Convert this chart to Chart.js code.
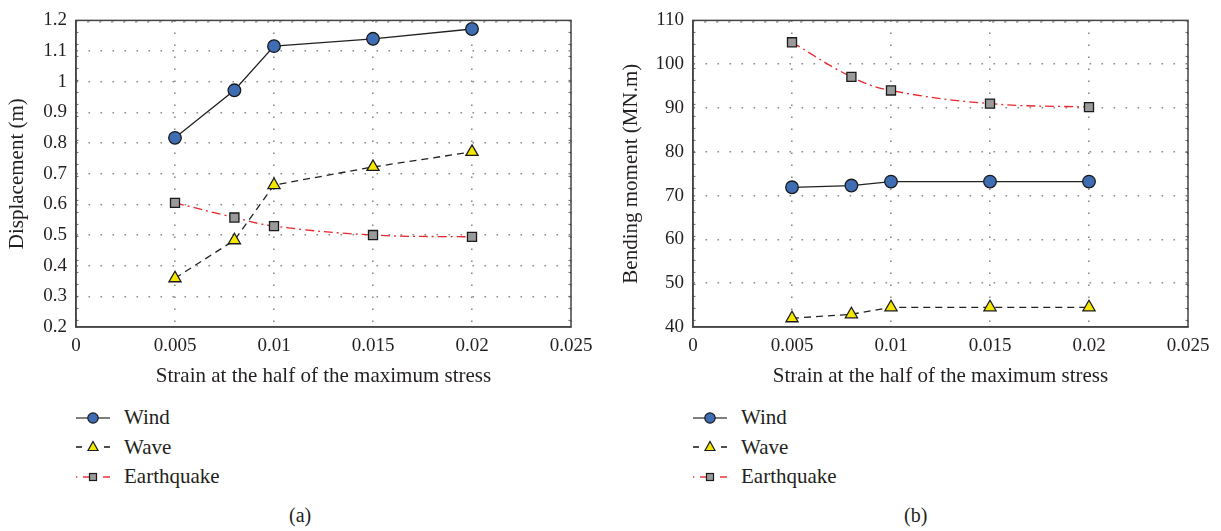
<!DOCTYPE html>
<html>
<head>
<meta charset="utf-8">
<script src="https://cdn.jsdelivr.net/npm/chart.js@4.4.0/dist/chart.umd.min.js"></script>
<style>
  body { margin: 0; width: 1221px; height: 531px; background: #fff; position: relative; overflow: hidden;
         font-family: "Liberation Serif", serif; color: #231f20; }
  .panel { position: absolute; top: 0; width: 604px; height: 390px; }
  .legend { position: absolute; top: 403px; }
  .legend .row { height: 29.5px; display: flex; align-items: center; font-size: 21px; }
  .legend svg { margin-right: 14px; }
  .caption { position: absolute; top: 504px; font-size: 20px; }
</style>
</head>
<body>
<div class="panel" style="left:0"><canvas id="chartA" width="604" height="390"></canvas></div>
<div class="panel" style="left:617px"><canvas id="chartB" width="604" height="390"></canvas></div>

<div class="legend" style="left:76px" id="legendA"></div>
<div class="legend" style="left:693px" id="legendB"></div>
<div class="caption" style="left:289px">(a)</div>
<div class="caption" style="left:904px">(b)</div>

<script>
// strain at half of max stress (shared x values)
const strain = [0.005, 0.008, 0.01, 0.015, 0.02];
const xTicks = [0, 0.005, 0.01, 0.015, 0.02, 0.025];
const xTickLabels = ['0', '0.005', '0.01', '0.015', '0.02', '0.025'];

// (a) displacement (m)
const dispWind = [0.817, 0.972, 1.116, 1.140, 1.172];
const dispWave = [0.359, 0.483, 0.663, 0.722, 0.771];
const dispQuake = [0.605, 0.557, 0.529, 0.500, 0.494];
const dispTicks = [0.2, 0.3, 0.4, 0.5, 0.6, 0.7, 0.8, 0.9, 1.0, 1.1, 1.2];
const dispTickLabels = ['0.2', '0.3', '0.4', '0.5', '0.6', '0.7', '0.8', '0.9', '1', '1.1', '1.2'];

// (b) bending moment (MN.m)
const momWind = [71.9, 72.3, 73.2, 73.2, 73.2];
const momWave = [42.0, 42.9, 44.5, 44.5, 44.5];
const momQuake = [105.0, 97.1, 94.0, 91.0, 90.2];
const momTicks = [40, 50, 60, 70, 80, 90, 100, 110];
const momTickLabels = ['40', '50', '60', '70', '80', '90', '100', '110'];

const seriesNames = ['Wind', 'Wave', 'Earthquake'];

Chart.defaults.font.family = '"Liberation Serif", serif';
Chart.defaults.color = '#231f20';

function pts(ys) {
  return strain.map(function(x, i) { return {x: x, y: ys[i]}; });
}

// box around the plot area, with small inner marks on top/left/right
var frame = {
  id: 'frame',
  afterDatasetsDraw: function(chart) {
    var a = chart.chartArea, ctx = chart.ctx;
    ctx.save();
    ctx.strokeStyle = '#666';
    ctx.lineWidth = 1;
    ctx.beginPath();
    for (var x = a.left + 12; x < a.right - 4; x += 12) {
      ctx.moveTo(x, a.top); ctx.lineTo(x, a.top + 2.5);
    }
    for (var y = a.top + 12; y < a.bottom - 4; y += 12) {
      ctx.moveTo(a.left, y); ctx.lineTo(a.left + 2.5, y);
      ctx.moveTo(a.right, y); ctx.lineTo(a.right - 2.5, y);
    }
    ctx.stroke();
    ctx.strokeStyle = '#444';
    ctx.lineWidth = 1.5;
    ctx.strokeRect(a.left, a.top, a.right - a.left, a.bottom - a.top);
    ctx.restore();
  }
};

function drawChart(id, wind, wave, quake, yTicks, yLabels, yTitle, titlePad) {
  var grid = { color: '#8a8a8a', lineWidth: 1.6, drawTicks: false };
  var border = { color: '#444', width: 1.5, dash: [1.6, 10.4] };
  return new Chart(document.getElementById(id), {
    type: 'line',
    data: {
      datasets: [{
        label: seriesNames[0],
        data: pts(wind),
        borderColor: '#222', borderWidth: 1.3,
        pointStyle: 'circle', pointRadius: 6.3,
        pointBackgroundColor: '#3f6db3', pointBorderColor: '#1a1a1a', pointBorderWidth: 1.3
      }, {
        label: seriesNames[1],
        data: pts(wave),
        borderColor: '#222', borderWidth: 1.3, borderDash: [7, 5],
        pointStyle: 'triangle', pointRadius: 7,
        pointBackgroundColor: '#f5e800', pointBorderColor: '#1a1a1a', pointBorderWidth: 1.3
      }, {
        label: seriesNames[2],
        data: pts(quake),
        borderColor: '#e8262b', borderWidth: 1.3, borderDash: [9, 4, 2, 4],
        tension: 0.4,
        pointStyle: 'rect', pointRadius: 6.4,
        pointBackgroundColor: '#9a9a9a', pointBorderColor: '#1a1a1a', pointBorderWidth: 1.3
      }]
    },
    options: {
      responsive: false,
      animation: false,
      layout: { padding: { top: 20, right: 33, left: 0, bottom: 0 } },
      plugins: { legend: { display: false }, tooltip: { enabled: false } },
      scales: {
        x: {
          type: 'linear', min: 0, max: 0.025,
          afterBuildTicks: function(s) { s.ticks = xTicks.map(function(v) { return {value: v}; }); },
          afterFit: function(s) { s.height = 63; },
          ticks: {
            padding: 8, font: { size: 19 }, maxRotation: 0,
            callback: function(v, i) { return xTickLabels[i]; }
          },
          grid: grid, border: border,
          title: { display: true, text: 'Strain at the half of the maximum stress',
                   font: { size: 21 }, padding: { top: 0, bottom: 1 } }
        },
        y: {
          min: yTicks[0], max: yTicks[yTicks.length - 1],
          afterBuildTicks: function(s) { s.ticks = yTicks.map(function(v) { return {value: v}; }); },
          afterFit: function(s) { s.width = 76; },
          ticks: {
            padding: 9, font: { size: 19 },
            callback: function(v, i) { return yLabels[i]; }
          },
          grid: grid, border: border,
          title: { display: true, text: yTitle, font: { size: 21 }, padding: { top: titlePad, bottom: 0 } }
        }
      }
    },
    plugins: [frame]
  });
}

drawChart('chartA', dispWind, dispWave, dispQuake, dispTicks, dispTickLabels, 'Displacement (m)', 5);
drawChart('chartB', momWind, momWave, momQuake, momTicks, momTickLabels, 'Bending moment (MN.m)', 1.5);

// legend rows: line sample + marker + name
var samples = [
  '<line x1="0" y1="10" x2="34" y2="10" stroke="#555" stroke-width="1.6"/>' +
  '<circle cx="17" cy="10" r="5.2" fill="#3f6db3" stroke="#1a1a1a" stroke-width="1.2"/>',
  '<line x1="0" y1="10" x2="6" y2="10" stroke="#222" stroke-width="1.6"/>' +
  '<line x1="28" y1="10" x2="34" y2="10" stroke="#222" stroke-width="1.6"/>' +
  '<polygon points="17,4.5 22,13.5 12,13.5" fill="#f5e800" stroke="#1a1a1a" stroke-width="1.2"/>',
  '<line x1="0" y1="10" x2="1.2" y2="10" stroke="#e8262b" stroke-width="1.4"/>' +
  '<line x1="7" y1="10" x2="14" y2="10" stroke="#e8262b" stroke-width="1.4"/>' +
  '<line x1="27" y1="10" x2="34" y2="10" stroke="#e8262b" stroke-width="1.4"/>' +
  '<rect x="13.5" y="6.5" width="7" height="7" fill="#9a9a9a" stroke="#1a1a1a" stroke-width="1.2"/>'
];
['legendA', 'legendB'].forEach(function(id) {
  var el = document.getElementById(id);
  seriesNames.forEach(function(name, i) {
    var row = document.createElement('div');
    row.className = 'row';
    row.innerHTML = '<svg width="34" height="20">' + samples[i] + '</svg><span>' + name + '</span>';
    el.appendChild(row);
  });
});
</script>
</body>
</html>
